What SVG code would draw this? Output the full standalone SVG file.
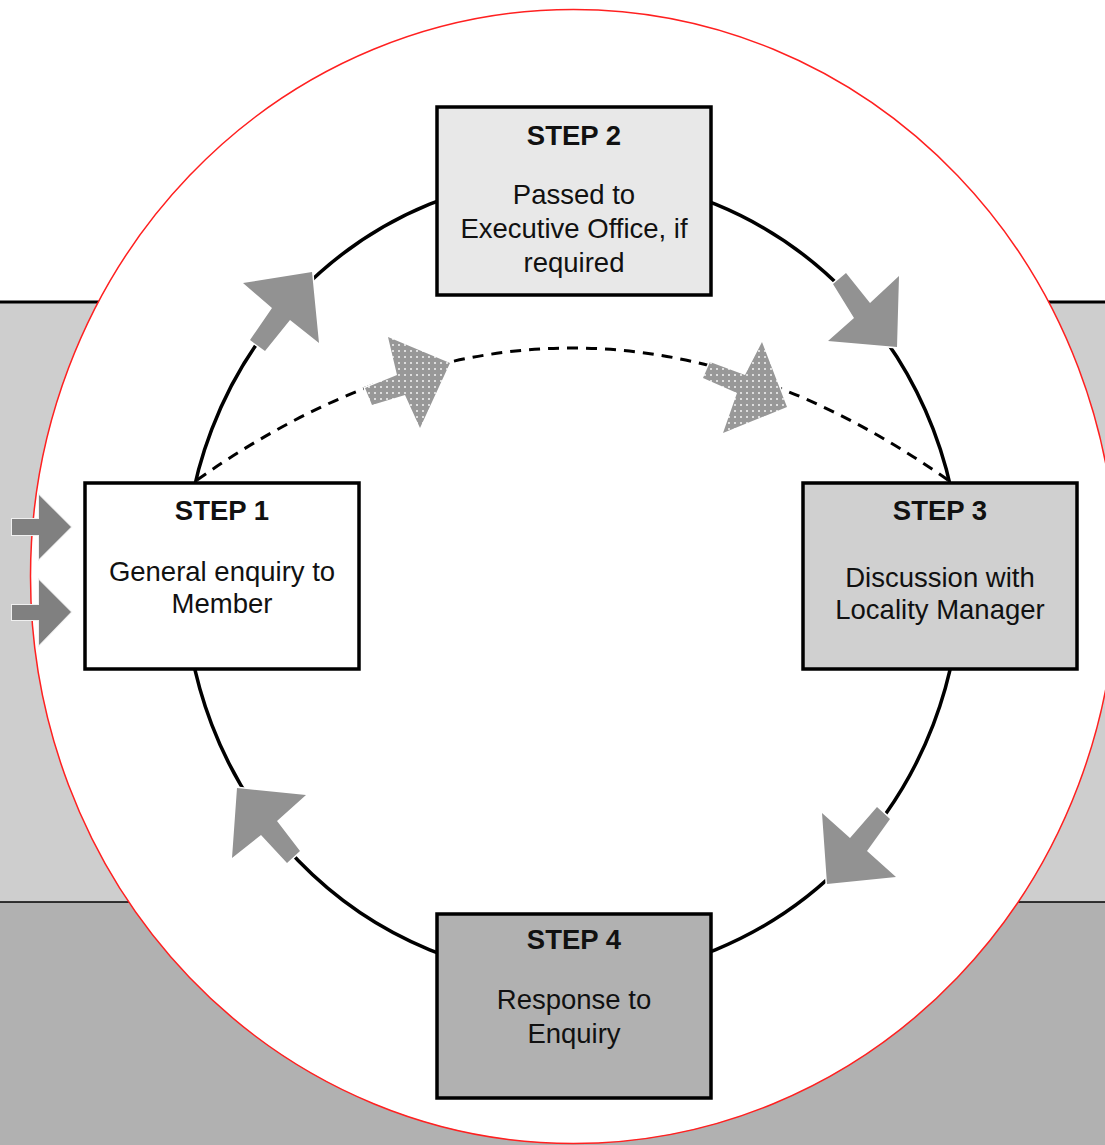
<svg xmlns="http://www.w3.org/2000/svg" width="1105" height="1145" viewBox="0 0 1105 1145">
<style>
.box{stroke:#000;stroke-width:3.5}
.t{font-family:"Liberation Sans",Arial,sans-serif;font-size:27.5px;fill:#111;text-anchor:middle}
.h{font-weight:bold}
.arr{fill:#929292;stroke:#fff;stroke-width:3;paint-order:stroke;stroke-linejoin:miter}
.in{fill:#808080;stroke:#f0f0f0;stroke-width:2;paint-order:stroke}
.dot{fill:url(#dots);stroke:#fff;stroke-width:3;paint-order:stroke}
</style>
<defs>
<pattern id="dots" width="6" height="6" patternUnits="userSpaceOnUse">
<rect width="6" height="6" fill="#989898"/>
<circle cx="3" cy="3" r="1" fill="#f4f4f4"/>
</pattern>
</defs>
<rect width="1105" height="1145" fill="#fff"/>
<rect x="0" y="302" width="1105" height="600" fill="#cecece"/>
<rect x="0" y="902" width="1105" height="243" fill="#b1b1b1"/>
<line x1="0" y1="302" x2="1105" y2="302" stroke="#000" stroke-width="3"/>
<line x1="0" y1="902" x2="1105" y2="902" stroke="#000" stroke-width="1.5"/>
<ellipse cx="573.5" cy="576.5" rx="543" ry="567" fill="#fff" stroke="#ff2020" stroke-width="1.5"/>
<g id="connectors">
<ellipse cx="572.5" cy="577" rx="388" ry="401" fill="none" stroke="#000" stroke-width="3.5"/>
<path d="M197 480 Q572 216 948 480" fill="none" stroke="#000" stroke-width="3" stroke-dasharray="11 8"/>
<polygon class="arr" points="312,272 243,283 272,308 250,340 265,351 290,320 319,343"/>
<polygon class="arr" points="897,347 899,276 870,303 846,273 833,284 854,318 828,341"/>
<polygon class="arr" points="827,884 822,813 850,838 877,807 890,819 867,851 896,877"/>
<polygon class="arr" points="237,788 306,795 277,821 300,851 287,863 261,835 232,858"/>
<polygon class="dot" points="450,363 388,337 397,375 365,388 372,405 405,395 420,428"/>
<polygon class="dot" points="787,407 762,342 745,375 710,362 703,378 737,393 723,433"/>
<polygon class="in" points="12,519 39,519 39,495 71,527 39,559 39,535 12,535"/>
<polygon class="in" points="12,605 39,605 39,580 71,612 39,645 39,620 12,620"/>
</g>
<g id="step1">
<rect class="box" x="85" y="483" width="274" height="186" fill="#fff"/>
<text class="t h" x="222" y="520">STEP 1</text>
<text class="t" x="222" y="581">General enquiry to</text>
<text class="t" x="222" y="613">Member</text>
</g>
<g id="step2">
<rect class="box" x="437" y="107" width="274" height="188" fill="#e8e8e8"/>
<text class="t h" x="574" y="145">STEP 2</text>
<text class="t" x="574" y="204">Passed to</text>
<text class="t" x="574" y="238">Executive Office, if</text>
<text class="t" x="574" y="272">required</text>
</g>
<g id="step3">
<rect class="box" x="803" y="483" width="274" height="186" fill="#d0d0d0"/>
<text class="t h" x="940" y="520">STEP 3</text>
<text class="t" x="940" y="587">Discussion with</text>
<text class="t" x="940" y="619">Locality Manager</text>
</g>
<g id="step4">
<rect class="box" x="437" y="914" width="274" height="184" fill="#b1b1b1"/>
<text class="t h" x="574" y="949">STEP 4</text>
<text class="t" x="574" y="1009">Response to</text>
<text class="t" x="574" y="1043">Enquiry</text>
</g>
</svg>
